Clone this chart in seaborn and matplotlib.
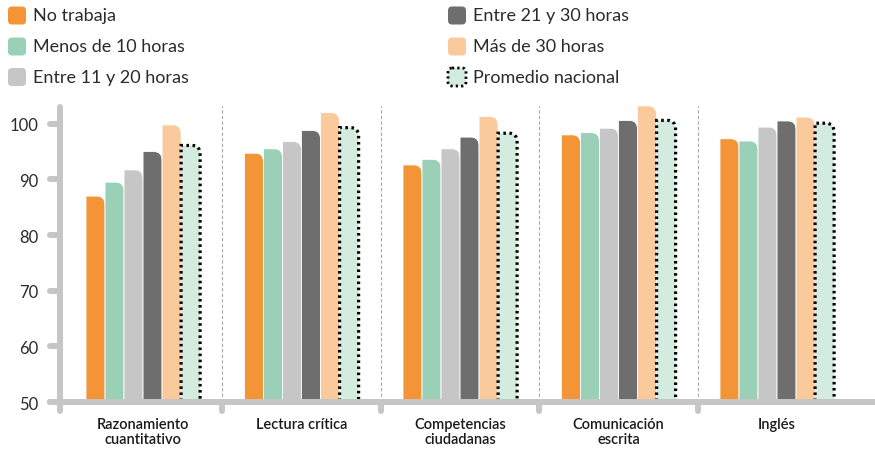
import matplotlib
matplotlib.use("Agg")
import matplotlib.pyplot as plt
import seaborn as sns
import pandas as pd
from matplotlib.path import Path
from matplotlib.patches import PathPatch, FancyBboxPatch

# data
categories = ["Razonamiento\ncuantitativo", "Lectura crítica", "Competencias\nciudadanas",
              "Comunicación\nescrita", "Inglés"]
series = ["No trabaja", "Menos de 10 horas", "Entre 11 y 20 horas",
          "Entre 21 y 30 horas", "Más de 30 horas", "Promedio nacional"]
no_trabaja = [87.0, 94.7, 92.6, 98.0, 97.3]
menos_10 = [89.5, 95.5, 93.6, 98.4, 96.9]
entre_11_20 = [91.7, 96.8, 95.5, 99.2, 99.4]
entre_21_30 = [95.0, 98.8, 97.6, 100.6, 100.5]
mas_30 = [99.8, 102.0, 101.3, 103.2, 101.2]
promedio = [96.1, 99.3, 98.3, 100.6, 100.1]
y_ticks = [50, 60, 70, 80, 90, 100]

colors = ["#f39437", "#9bd0b8", "#c6c6c6", "#6e6e6e", "#fbca9c", "#d4ebdf"]
AXIS_GRAY = "#c6c6c6"
TEXT = "#2b2b2b"

values = [no_trabaja, menos_10, entre_11_20, entre_21_30, mas_30, promedio]
df = pd.DataFrame([
    {"area": cat, "grupo": s, "puntaje": vals[i]}
    for s, vals in zip(series, values)
    for i, cat in enumerate(categories)
])

sns.set_style("white")
plt.rcParams["font.family"] = ["Lato", "DejaVu Sans"]

fig = plt.figure(figsize=(8.75, 4.52), dpi=100)
ax = fig.add_axes([60 / 875, 0.1084, 1 - 60 / 875, 0.671])

sns.barplot(data=df, x="area", y="puntaje", hue="grupo", order=categories,
            hue_order=series, palette=colors, width=0.72, saturation=1,
            legend=False, ax=ax)

ax.set_xlim(-0.524, 4.618)
ax.set_ylim(50, 104.5)

# px -> data scale
px_x = 1 / 158.5
px_y = 1 / 5.566


def rounded_top(x0, w, h, rx, ry):
    verts = [(x0, 0), (x0, h), (x0 + w - rx, h), (x0 + w, h), (x0 + w, h - ry),
             (x0 + w, 0), (x0, 0)]
    codes = [Path.MOVETO, Path.LINETO, Path.LINETO, Path.CURVE3, Path.CURVE3,
             Path.LINETO, Path.CLOSEPOLY]
    return Path(verts, codes)


for k, cont in enumerate(ax.containers):
    for bar in cont:
        x0, w, h = bar.get_x(), bar.get_width(), bar.get_height()
        fc = bar.get_facecolor()
        bar.remove()
        path = rounded_top(x0, w, h, 8 * px_x, 9 * px_y)
        if series[k] == "Promedio nacional":
            patch = PathPatch(path, facecolor=fc, edgecolor="black", lw=2.3,
                              linestyle=(0, (0.8, 1.1)), zorder=3)
        else:
            patch = PathPatch(path, facecolor=fc, edgecolor="white", lw=0.6, zorder=2)
        ax.add_patch(patch)

# group dividers
for xd in [0.5, 1.5, 2.5, 3.5]:
    ax.plot([xd, xd], [50, 103.2], color="#a8a8a8", lw=0.8, ls=(0, (3, 2)), zorder=1)
    ax.plot([xd, xd], [50, 48.4], color=AXIS_GRAY, lw=4.3, solid_capstyle="round",
            clip_on=False, zorder=4)

# custom rounded axis lines
ax.plot([-0.587, 4.7], [50, 50], color=AXIS_GRAY, lw=4.3, solid_capstyle="round",
        clip_on=False, zorder=5)
ax.plot([-0.524, -0.524], [48.4, 103.0], color=AXIS_GRAY, lw=4.3,
        solid_capstyle="round", clip_on=False, zorder=5)
for v in y_ticks:
    ax.plot([-0.587, -0.524], [v, v], color=AXIS_GRAY, lw=4.3,
            solid_capstyle="round", clip_on=False, zorder=5)

sns.despine(ax=ax, left=True, bottom=True)
ax.set_yticks(y_ticks)
ax.set_yticklabels([str(v) for v in y_ticks], fontsize=12, color=TEXT)
ax.set_xticks(range(len(categories)))
ax.set_xticklabels(categories, fontsize=10.5, fontweight="semibold", color="#1a1a1a",
                   linespacing=1.05)
ax.tick_params(axis="y", length=0, pad=15.8)
ax.tick_params(axis="x", length=0, pad=11)
ax.set_xlabel("")
ax.set_ylabel("")

# legend drawn in pixel coordinates
lax = fig.add_axes([0, 0, 1, 1], zorder=-1)
lax.set_xlim(0, 875)
lax.set_ylim(452, 0)
lax.axis("off")
legend_pos = [(7, 16.5), (7, 47.5), (7, 78), (447, 16.5), (447, 47.5), (447, 78)]
for (lx, ly), name, col in zip(legend_pos, series, colors):
    if name == "Promedio nacional":
        box = FancyBboxPatch((lx + 1, ly - 9), 18, 18, boxstyle="round,pad=0,rounding_size=4",
                             facecolor=col, edgecolor="black", lw=2.0,
                             linestyle=(0, (0.8, 1.1)))
    else:
        box = FancyBboxPatch((lx + 1, ly - 9), 18, 18, boxstyle="round,pad=0,rounding_size=4",
                             facecolor=col, edgecolor="none")
    lax.add_patch(box)
    lax.text(lx + 26, ly, name, fontsize=13, color=TEXT, va="center", ha="left")

fig.savefig("out.png", dpi=100)
